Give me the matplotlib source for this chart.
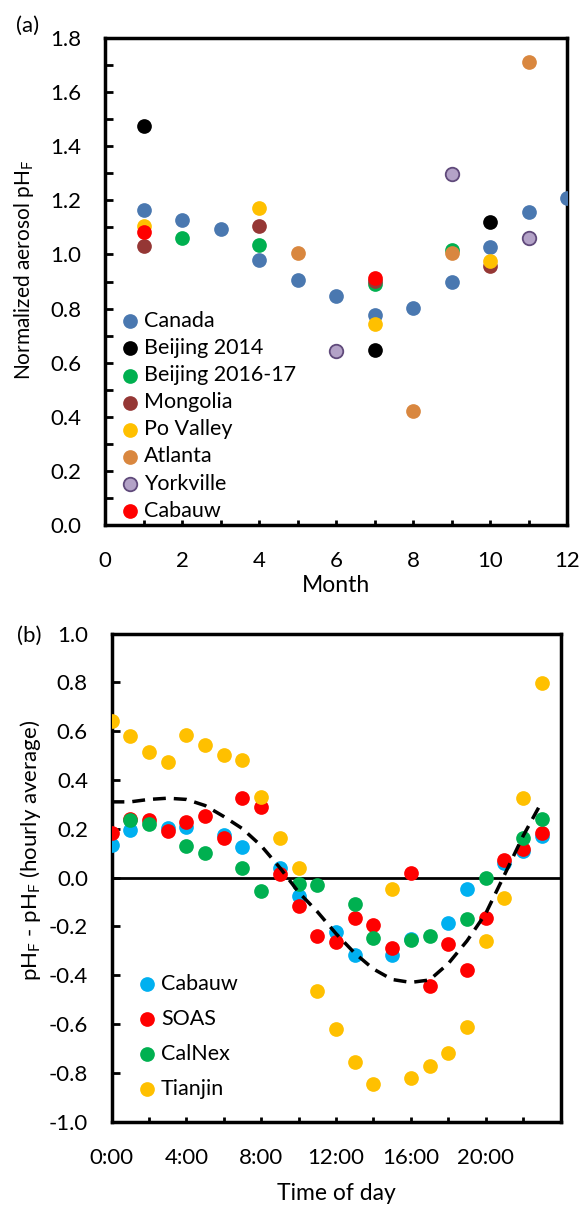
import numpy as np
import matplotlib
matplotlib.use('Agg')
import matplotlib.pyplot as plt
from matplotlib.ticker import MultipleLocator, FixedLocator, FormatStrFormatter

plt.rcParams['font.family'] = ['Lato', 'DejaVu Sans']
plt.rcParams['mathtext.fontset'] = 'custom'
plt.rcParams['mathtext.rm'] = 'Lato'
plt.rcParams['mathtext.it'] = 'Lato:italic'
plt.rcParams['font.size'] = 16

# ---- panel (a): normalized aerosol pH by month
canada_month = [1, 2, 3, 4, 5, 6, 7, 8, 9, 10, 11, 12]
canada_ph = [1.163, 1.128, 1.095, 0.981, 0.904, 0.848, 0.775, 0.801, 0.897, 1.026, 1.158, 1.210]
beijing14_month = [1, 7, 10]
beijing14_ph = [1.473, 0.647, 1.120]
beijing16_month = [2, 4, 7, 9]
beijing16_ph = [1.059, 1.035, 0.889, 1.015]
mongolia_month = [1, 4, 7, 10]
mongolia_ph = [1.030, 1.104, 0.901, 0.957]
po_month = [1, 4, 7, 10]
po_ph = [1.105, 1.170, 0.744, 0.975]
atlanta_month = [5, 8, 9, 11]
atlanta_ph = [1.007, 0.420, 1.007, 1.711]
york_month = [6, 9, 11]
york_ph = [0.643, 1.296, 1.059]
cabauw_month = [1, 7]
cabauw_ph = [1.084, 0.914]

# ---- panel (b): diurnal deviation from hourly average
hours = list(range(24))
nan = np.nan
cabauw_dev = [0.135, 0.194, nan, 0.201, 0.208, nan, 0.174, 0.123, nan, 0.037, -0.077, nan,
              -0.223, -0.316, nan, -0.319, -0.251, nan, -0.188, -0.049, nan, 0.060, 0.108, 0.170]
soas_dev = [0.183, 0.239, 0.235, 0.190, 0.227, 0.253, 0.160, 0.326, 0.287, 0.016, -0.118, -0.241,
            -0.264, -0.164, -0.193, -0.289, 0.020, -0.446, -0.273, -0.381, -0.168, 0.071, 0.118, 0.183]
calnex_dev = [nan, 0.235, 0.218, nan, 0.131, 0.099, nan, 0.037, -0.055, nan, -0.025, -0.032,
              nan, -0.110, -0.248, nan, -0.258, -0.240, nan, -0.171, 0.000, nan, 0.160, 0.238]
tianjin_dev = [0.642, 0.580, 0.513, 0.472, 0.583, 0.543, 0.502, 0.482, 0.329, 0.160, 0.040, -0.464,
               -0.619, -0.756, -0.845, -0.049, -0.822, -0.774, -0.720, -0.611, -0.259, -0.086, 0.327, 0.799]
fit_dev = [0.31, 0.31, 0.32, 0.325, 0.32, 0.295, 0.25, 0.20, 0.13, 0.04, -0.06, -0.14,
           -0.23, -0.31, -0.375, -0.418, -0.43, -0.42, -0.353, -0.26, -0.148, 0.01, 0.17, 0.31]
time_labels = ['0:00', '4:00', '8:00', '12:00', '16:00', '20:00']

W, H = 581, 1206
fig = plt.figure(figsize=(W / 100, H / 100), dpi=100)

ax1 = fig.add_axes([105 / W, 1 - 525 / H, (567 - 105) / W, (525 - 38) / H])
ax2 = fig.add_axes([111.5 / W, 1 - 1121.5 / H, (560.5 - 111.5) / W, (1121.5 - 633.5) / H])

S = 112
ax1.scatter(canada_month, canada_ph, s=S, color='#4A78B0', lw=0, label='Canada', zorder=3)
ax1.scatter(beijing14_month, beijing14_ph, s=S, color='black', lw=0, label='Beijing 2014', zorder=3)
ax1.scatter(beijing16_month, beijing16_ph, s=S, color='#00B050', lw=0, label='Beijing 2016-17', zorder=3)
ax1.scatter(mongolia_month, mongolia_ph, s=S, color='#953735', lw=0, label='Mongolia', zorder=3)
ax1.scatter(po_month, po_ph, s=S, color='#FFC000', lw=0, label='Po Valley', zorder=3)
ax1.scatter(atlanta_month, atlanta_ph, s=S, color='#D9873F', lw=0, label='Atlanta', zorder=3)
ax1.scatter(york_month, york_ph, s=95, facecolor='#B3A2C7', edgecolor='#604A7B', lw=1.3,
            label='Yorkville', zorder=3)
ax1.scatter(cabauw_month, cabauw_ph, s=S, color='#FF0000', lw=0, label='Cabauw', zorder=3)

ax1.set_xlim(0, 12)
ax1.set_ylim(0, 1.8)
ax1.xaxis.set_major_locator(MultipleLocator(2))
ax1.xaxis.set_minor_locator(MultipleLocator(1))
ax1.yaxis.set_major_locator(MultipleLocator(0.2))
ax1.yaxis.set_minor_locator(MultipleLocator(0.1))
ax1.yaxis.set_major_formatter(FormatStrFormatter('%.1f'))
ax1.tick_params(axis='y', which='both', direction='in', length=6, width=2, pad=17)
ax1.tick_params(axis='x', which='both', direction='in', length=3.5, width=2, pad=19)
ax1.legend(loc='lower left', bbox_to_anchor=(0.0, 0.0), frameon=False, fontsize=15.5,
           borderpad=0.2, borderaxespad=0.0, handletextpad=-0.3, labelspacing=0.33,
           handlelength=1.9, scatterpoints=1)
fig.text(336 / W, 1 - 586 / H, 'Month', ha='center', va='center', fontsize=16.5)
fig.text(28 / W, 1 - 26 / H, '(a)', ha='center', va='center')
fig.text(24 / W, 1 - 270 / H, 'Normalized aerosol pH$_\\mathrm{F}$', rotation=90,
         ha='center', va='center', fontsize=15,
         family=['Liberation Sans Narrow', 'Lato', 'DejaVu Sans'])

ax2.axhline(0, color='black', lw=2, zorder=1)
ax2.scatter(hours, cabauw_dev, s=S, color='#00B0F0', lw=0, label='Cabauw', zorder=3)
ax2.scatter(hours, soas_dev, s=S, color='#FF0000', lw=0, label='SOAS', zorder=3)
ax2.scatter(hours, calnex_dev, s=S, color='#00B050', lw=0, label='CalNex', zorder=3)
ax2.scatter(hours, tianjin_dev, s=S, color='#FFC000', lw=0, label='Tianjin', zorder=3)
ax2.plot(hours, fit_dev, color='black', lw=2.5, dashes=(3.7, 2.3), zorder=5)

ax2.set_xlim(0, 24)
ax2.set_ylim(-1.0, 1.0)
ax2.xaxis.set_major_locator(FixedLocator([0, 4, 8, 12, 16, 20]))
ax2.set_xticklabels(time_labels)
ax2.xaxis.set_minor_locator(MultipleLocator(2))
ax2.yaxis.set_major_locator(MultipleLocator(0.2))
ax2.yaxis.set_major_formatter(FormatStrFormatter('%.1f'))
ax2.tick_params(axis='y', which='both', direction='in', length=6, width=2, pad=17)
ax2.tick_params(axis='x', which='both', direction='in', length=3.5, width=2, pad=19)
ax2.legend(loc='lower left', bbox_to_anchor=(0.017, 0.031), frameon=False, fontsize=15.5,
           borderpad=0.2, borderaxespad=0.15, handletextpad=-0.3, labelspacing=0.70,
           handlelength=1.9, scatterpoints=1)
fig.text(336 / W, 1 - 1193 / H, 'Time of day', ha='center', va='center', fontsize=16.5)
fig.text(29.5 / W, 1 - 636 / H, '(b)', ha='center', va='center')
fig.text(31 / W, 1 - 850 / H, 'pH$_\\mathrm{F}$ - pH$_\\mathrm{F}$ (hourly average)', rotation=90,
         ha='center', va='center', fontsize=16)

for ax in (ax1, ax2):
    for sp in ax.spines.values():
        sp.set_linewidth(2.5)

fig.savefig('out.png', dpi=100)
